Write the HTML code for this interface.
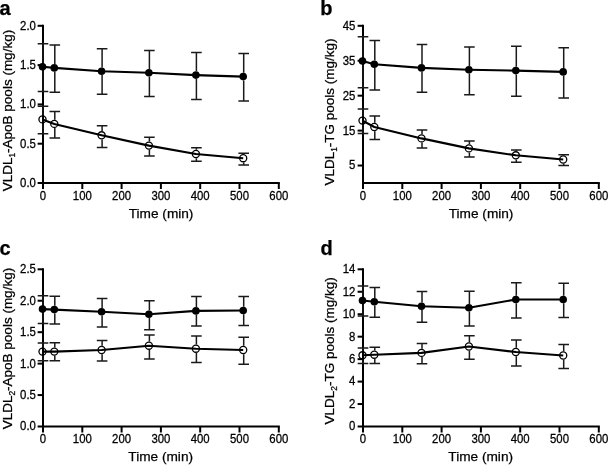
<!DOCTYPE html>
<html><head><meta charset="utf-8"><style>
html,body{margin:0;padding:0;background:#fff;}
body{width:609px;height:465px;overflow:hidden;}
svg{display:block;font-family:"Liberation Sans", sans-serif;will-change:transform;}
text{stroke:#000;stroke-width:0.25px;}
</style></head><body>
<svg width="609" height="465" viewBox="0 0 609 465">
<rect width="609" height="465" fill="#fff"/>
<path d="M43 25.8V183M43 183H278.80" stroke="#000" stroke-width="2" fill="none" stroke-linecap="square"/>
<line x1="37.6" y1="183.00" x2="43" y2="183.00" stroke="#000" stroke-width="2"/>
<text transform="translate(35.9 186.90) scale(1 1.06)" text-anchor="end" font-size="11.4">0.0</text>
<line x1="37.6" y1="143.70" x2="43" y2="143.70" stroke="#000" stroke-width="2"/>
<text transform="translate(35.9 147.60) scale(1 1.06)" text-anchor="end" font-size="11.4">0.5</text>
<line x1="37.6" y1="104.40" x2="43" y2="104.40" stroke="#000" stroke-width="2"/>
<text transform="translate(35.9 108.30) scale(1 1.06)" text-anchor="end" font-size="11.4">1.0</text>
<line x1="37.6" y1="65.10" x2="43" y2="65.10" stroke="#000" stroke-width="2"/>
<text transform="translate(35.9 69.00) scale(1 1.06)" text-anchor="end" font-size="11.4">1.5</text>
<line x1="37.6" y1="25.80" x2="43" y2="25.80" stroke="#000" stroke-width="2"/>
<text transform="translate(35.9 29.70) scale(1 1.06)" text-anchor="end" font-size="11.4">2.0</text>
<line x1="43.00" y1="183" x2="43.00" y2="189" stroke="#000" stroke-width="2"/>
<text transform="translate(43.00 200.10) scale(1 1.06)" text-anchor="middle" font-size="11.4">0</text>
<line x1="82.30" y1="183" x2="82.30" y2="189" stroke="#000" stroke-width="2"/>
<text transform="translate(82.30 200.10) scale(1 1.06)" text-anchor="middle" font-size="11.4">100</text>
<line x1="121.60" y1="183" x2="121.60" y2="189" stroke="#000" stroke-width="2"/>
<text transform="translate(121.60 200.10) scale(1 1.06)" text-anchor="middle" font-size="11.4">200</text>
<line x1="160.90" y1="183" x2="160.90" y2="189" stroke="#000" stroke-width="2"/>
<text transform="translate(160.90 200.10) scale(1 1.06)" text-anchor="middle" font-size="11.4">300</text>
<line x1="200.20" y1="183" x2="200.20" y2="189" stroke="#000" stroke-width="2"/>
<text transform="translate(200.20 200.10) scale(1 1.06)" text-anchor="middle" font-size="11.4">400</text>
<line x1="239.50" y1="183" x2="239.50" y2="189" stroke="#000" stroke-width="2"/>
<text transform="translate(239.50 200.10) scale(1 1.06)" text-anchor="middle" font-size="11.4">500</text>
<line x1="278.80" y1="183" x2="278.80" y2="189" stroke="#000" stroke-width="2"/>
<text transform="translate(278.80 200.10) scale(1 1.06)" text-anchor="middle" font-size="11.4">600</text>
<text x="161.10" y="218.00" text-anchor="middle" font-size="13.65">Time (min)</text>
<text transform="translate(11.8 110.6) rotate(-90)" text-anchor="middle" font-size="13.5">VLDL<tspan font-size="8.37" dy="3">1</tspan><tspan dy="-3">-ApoB pools (mg/kg)</tspan></text>
<text x="-0.5" y="14.7" font-size="20" font-weight="bold">a</text>
<path d="M43.00 63.00V43.8M37.70 43.8H48.30M43.00 70.60V91.4M37.70 91.4H48.30" stroke="#1a1a1a" stroke-width="1.5" fill="none"/>
<path d="M54.80 64.10V45M49.50 45H60.10M54.80 71.70V92.2M49.50 92.2H60.10" stroke="#1a1a1a" stroke-width="1.5" fill="none"/>
<path d="M102.10 67.40V48.7M96.80 48.7H107.40M102.10 75.00V94.2M96.80 94.2H107.40" stroke="#1a1a1a" stroke-width="1.5" fill="none"/>
<path d="M149.40 68.90V50.5M144.10 50.5H154.70M149.40 76.50V96.4M144.10 96.4H154.70" stroke="#1a1a1a" stroke-width="1.5" fill="none"/>
<path d="M196.40 71.30V52.4M191.10 52.4H201.70M196.40 78.90V99.4M191.10 99.4H201.70" stroke="#1a1a1a" stroke-width="1.5" fill="none"/>
<path d="M243.70 72.80V53.5M238.40 53.5H249.00M243.70 80.40V101.1M238.40 101.1H249.00" stroke="#1a1a1a" stroke-width="1.5" fill="none"/>
<polyline points="42.5,66.8 54.3,67.9 101.6,71.2 148.9,72.7 195.9,75.1 243.2,76.6" stroke="#000" stroke-width="2.1" fill="none" stroke-linejoin="round"/>
<circle cx="42.5" cy="66.8" r="3.8" fill="#000"/>
<circle cx="54.3" cy="67.9" r="3.8" fill="#000"/>
<circle cx="101.6" cy="71.2" r="3.8" fill="#000"/>
<circle cx="148.9" cy="72.7" r="3.8" fill="#000"/>
<circle cx="195.9" cy="75.1" r="3.8" fill="#000"/>
<circle cx="243.2" cy="76.6" r="3.8" fill="#000"/>
<path d="M43.00 115.20V106.2M37.70 106.2H48.30M43.00 123.60V133.8M37.70 133.8H48.30" stroke="#1a1a1a" stroke-width="1.5" fill="none"/>
<path d="M54.80 119.70V111.6M49.50 111.6H60.10M54.80 128.10V138M49.50 138H60.10" stroke="#1a1a1a" stroke-width="1.5" fill="none"/>
<path d="M102.10 131.10V125.7M96.80 125.7H107.40M102.10 139.50V147.4M96.80 147.4H107.40" stroke="#1a1a1a" stroke-width="1.5" fill="none"/>
<path d="M149.40 141.40V137.3M144.10 137.3H154.70M149.40 149.80V155.9M144.10 155.9H154.70" stroke="#1a1a1a" stroke-width="1.5" fill="none"/>
<path d="M196.40 149.80V147.8M191.10 147.8H201.70M196.40 158.20V161.2M191.10 161.2H201.70" stroke="#1a1a1a" stroke-width="1.5" fill="none"/>
<path d="M243.70 154.00V153.3M238.40 153.3H249.00M243.70 162.40V165.1M238.40 165.1H249.00" stroke="#1a1a1a" stroke-width="1.5" fill="none"/>
<polyline points="42.5,119.4 54.3,123.9 101.6,135.3 148.9,145.6 195.9,154 243.2,158.2" stroke="#000" stroke-width="2.1" fill="none" stroke-linejoin="round"/>
<circle cx="42.5" cy="119.4" r="3.55" fill="none" stroke="#000" stroke-width="1.3"/>
<circle cx="54.3" cy="123.9" r="3.55" fill="none" stroke="#000" stroke-width="1.3"/>
<circle cx="101.6" cy="135.3" r="3.55" fill="none" stroke="#000" stroke-width="1.3"/>
<circle cx="148.9" cy="145.6" r="3.55" fill="none" stroke="#000" stroke-width="1.3"/>
<circle cx="195.9" cy="154" r="3.55" fill="none" stroke="#000" stroke-width="1.3"/>
<circle cx="243.2" cy="158.2" r="3.55" fill="none" stroke="#000" stroke-width="1.3"/>
<path d="M363 25.8V183M363 183H598.80" stroke="#000" stroke-width="2" fill="none" stroke-linecap="square"/>
<line x1="357.6" y1="165.53" x2="363" y2="165.53" stroke="#000" stroke-width="2"/>
<text transform="translate(355.4 169.43) scale(1 1.06)" text-anchor="end" font-size="11.4">5</text>
<line x1="357.6" y1="130.60" x2="363" y2="130.60" stroke="#000" stroke-width="2"/>
<text transform="translate(355.4 134.50) scale(1 1.06)" text-anchor="end" font-size="11.4">15</text>
<line x1="357.6" y1="95.67" x2="363" y2="95.67" stroke="#000" stroke-width="2"/>
<text transform="translate(355.4 99.57) scale(1 1.06)" text-anchor="end" font-size="11.4">25</text>
<line x1="357.6" y1="60.73" x2="363" y2="60.73" stroke="#000" stroke-width="2"/>
<text transform="translate(355.4 64.63) scale(1 1.06)" text-anchor="end" font-size="11.4">35</text>
<line x1="357.6" y1="25.80" x2="363" y2="25.80" stroke="#000" stroke-width="2"/>
<text transform="translate(355.4 29.70) scale(1 1.06)" text-anchor="end" font-size="11.4">45</text>
<line x1="363.00" y1="183" x2="363.00" y2="189" stroke="#000" stroke-width="2"/>
<text transform="translate(363.00 200.10) scale(1 1.06)" text-anchor="middle" font-size="11.4">0</text>
<line x1="402.30" y1="183" x2="402.30" y2="189" stroke="#000" stroke-width="2"/>
<text transform="translate(402.30 200.10) scale(1 1.06)" text-anchor="middle" font-size="11.4">100</text>
<line x1="441.60" y1="183" x2="441.60" y2="189" stroke="#000" stroke-width="2"/>
<text transform="translate(441.60 200.10) scale(1 1.06)" text-anchor="middle" font-size="11.4">200</text>
<line x1="480.90" y1="183" x2="480.90" y2="189" stroke="#000" stroke-width="2"/>
<text transform="translate(480.90 200.10) scale(1 1.06)" text-anchor="middle" font-size="11.4">300</text>
<line x1="520.20" y1="183" x2="520.20" y2="189" stroke="#000" stroke-width="2"/>
<text transform="translate(520.20 200.10) scale(1 1.06)" text-anchor="middle" font-size="11.4">400</text>
<line x1="559.50" y1="183" x2="559.50" y2="189" stroke="#000" stroke-width="2"/>
<text transform="translate(559.50 200.10) scale(1 1.06)" text-anchor="middle" font-size="11.4">500</text>
<line x1="598.80" y1="183" x2="598.80" y2="189" stroke="#000" stroke-width="2"/>
<text transform="translate(598.80 200.10) scale(1 1.06)" text-anchor="middle" font-size="11.4">600</text>
<text x="481.10" y="218.00" text-anchor="middle" font-size="13.65">Time (min)</text>
<text transform="translate(333.8 112.0) rotate(-90)" text-anchor="middle" font-size="13.5">VLDL<tspan font-size="8.37" dy="3">1</tspan><tspan dy="-3">-TG pools (mg/kg)</tspan></text>
<text x="320.2" y="14.9" font-size="20" font-weight="bold">b</text>
<path d="M363.00 57.20V36.7M357.70 36.7H368.30M363.00 64.80V87.7M357.70 87.7H368.30" stroke="#1a1a1a" stroke-width="1.5" fill="none"/>
<path d="M374.80 60.50V40.4M369.50 40.4H380.10M374.80 68.10V90.1M369.50 90.1H380.10" stroke="#1a1a1a" stroke-width="1.5" fill="none"/>
<path d="M422.00 64.10V44.6M416.70 44.6H427.30M422.00 71.70V92.2M416.70 92.2H427.30" stroke="#1a1a1a" stroke-width="1.5" fill="none"/>
<path d="M469.40 65.90V47.1M464.10 47.1H474.70M469.40 73.50V94.7M464.10 94.7H474.70" stroke="#1a1a1a" stroke-width="1.5" fill="none"/>
<path d="M516.30 66.80V46.3M511.00 46.3H521.60M516.30 74.40V96.2M511.00 96.2H521.60" stroke="#1a1a1a" stroke-width="1.5" fill="none"/>
<path d="M563.70 68.10V47.7M558.40 47.7H569.00M563.70 75.70V97.9M558.40 97.9H569.00" stroke="#1a1a1a" stroke-width="1.5" fill="none"/>
<polyline points="362.5,61 374.3,64.3 421.5,67.9 468.9,69.7 515.8,70.6 563.2,71.9" stroke="#000" stroke-width="2.1" fill="none" stroke-linejoin="round"/>
<circle cx="362.5" cy="61" r="3.8" fill="#000"/>
<circle cx="374.3" cy="64.3" r="3.8" fill="#000"/>
<circle cx="421.5" cy="67.9" r="3.8" fill="#000"/>
<circle cx="468.9" cy="69.7" r="3.8" fill="#000"/>
<circle cx="515.8" cy="70.6" r="3.8" fill="#000"/>
<circle cx="563.2" cy="71.9" r="3.8" fill="#000"/>
<path d="M363.00 116.40V109.1M357.70 109.1H368.30M363.00 124.80V133.5M357.70 133.5H368.30" stroke="#1a1a1a" stroke-width="1.5" fill="none"/>
<path d="M374.80 122.80V116.1M369.50 116.1H380.10M374.80 131.20V139.6M369.50 139.6H380.10" stroke="#1a1a1a" stroke-width="1.5" fill="none"/>
<path d="M422.00 134.20V129.9M416.70 129.9H427.30M422.00 142.60V147.9M416.70 147.9H427.30" stroke="#1a1a1a" stroke-width="1.5" fill="none"/>
<path d="M469.40 144.20V141M464.10 141H474.70M469.40 152.60V157M464.10 157H474.70" stroke="#1a1a1a" stroke-width="1.5" fill="none"/>
<path d="M516.30 151.10V149.9M511.00 149.9H521.60M516.30 159.50V162.3M511.00 162.3H521.60" stroke="#1a1a1a" stroke-width="1.5" fill="none"/>
<path d="M563.70 155.30V154.8M558.40 154.8H569.00M563.70 163.70V165.5M558.40 165.5H569.00" stroke="#1a1a1a" stroke-width="1.5" fill="none"/>
<polyline points="362.5,120.6 374.3,127 421.5,138.4 468.9,148.4 515.8,155.3 563.2,159.5" stroke="#000" stroke-width="2.1" fill="none" stroke-linejoin="round"/>
<circle cx="362.5" cy="120.6" r="3.55" fill="none" stroke="#000" stroke-width="1.3"/>
<circle cx="374.3" cy="127" r="3.55" fill="none" stroke="#000" stroke-width="1.3"/>
<circle cx="421.5" cy="138.4" r="3.55" fill="none" stroke="#000" stroke-width="1.3"/>
<circle cx="468.9" cy="148.4" r="3.55" fill="none" stroke="#000" stroke-width="1.3"/>
<circle cx="515.8" cy="155.3" r="3.55" fill="none" stroke="#000" stroke-width="1.3"/>
<circle cx="563.2" cy="159.5" r="3.55" fill="none" stroke="#000" stroke-width="1.3"/>
<path d="M43 269.3V426.5M43 426.5H278.80" stroke="#000" stroke-width="2" fill="none" stroke-linecap="square"/>
<line x1="37.6" y1="426.50" x2="43" y2="426.50" stroke="#000" stroke-width="2"/>
<text transform="translate(35.9 430.40) scale(1 1.06)" text-anchor="end" font-size="11.4">0.0</text>
<line x1="37.6" y1="395.06" x2="43" y2="395.06" stroke="#000" stroke-width="2"/>
<text transform="translate(35.9 398.96) scale(1 1.06)" text-anchor="end" font-size="11.4">0.5</text>
<line x1="37.6" y1="363.62" x2="43" y2="363.62" stroke="#000" stroke-width="2"/>
<text transform="translate(35.9 367.52) scale(1 1.06)" text-anchor="end" font-size="11.4">1.0</text>
<line x1="37.6" y1="332.18" x2="43" y2="332.18" stroke="#000" stroke-width="2"/>
<text transform="translate(35.9 336.08) scale(1 1.06)" text-anchor="end" font-size="11.4">1.5</text>
<line x1="37.6" y1="300.74" x2="43" y2="300.74" stroke="#000" stroke-width="2"/>
<text transform="translate(35.9 304.64) scale(1 1.06)" text-anchor="end" font-size="11.4">2.0</text>
<line x1="37.6" y1="269.30" x2="43" y2="269.30" stroke="#000" stroke-width="2"/>
<text transform="translate(35.9 273.20) scale(1 1.06)" text-anchor="end" font-size="11.4">2.5</text>
<line x1="43.00" y1="426.5" x2="43.00" y2="432.5" stroke="#000" stroke-width="2"/>
<text transform="translate(43.00 443.00) scale(1 1.06)" text-anchor="middle" font-size="11.4">0</text>
<line x1="82.30" y1="426.5" x2="82.30" y2="432.5" stroke="#000" stroke-width="2"/>
<text transform="translate(82.30 443.00) scale(1 1.06)" text-anchor="middle" font-size="11.4">100</text>
<line x1="121.60" y1="426.5" x2="121.60" y2="432.5" stroke="#000" stroke-width="2"/>
<text transform="translate(121.60 443.00) scale(1 1.06)" text-anchor="middle" font-size="11.4">200</text>
<line x1="160.90" y1="426.5" x2="160.90" y2="432.5" stroke="#000" stroke-width="2"/>
<text transform="translate(160.90 443.00) scale(1 1.06)" text-anchor="middle" font-size="11.4">300</text>
<line x1="200.20" y1="426.5" x2="200.20" y2="432.5" stroke="#000" stroke-width="2"/>
<text transform="translate(200.20 443.00) scale(1 1.06)" text-anchor="middle" font-size="11.4">400</text>
<line x1="239.50" y1="426.5" x2="239.50" y2="432.5" stroke="#000" stroke-width="2"/>
<text transform="translate(239.50 443.00) scale(1 1.06)" text-anchor="middle" font-size="11.4">500</text>
<line x1="278.80" y1="426.5" x2="278.80" y2="432.5" stroke="#000" stroke-width="2"/>
<text transform="translate(278.80 443.00) scale(1 1.06)" text-anchor="middle" font-size="11.4">600</text>
<text x="160.70" y="461.00" text-anchor="middle" font-size="13.65">Time (min)</text>
<text transform="translate(11.8 348.6) rotate(-90)" text-anchor="middle" font-size="13.5">VLDL<tspan font-size="8.37" dy="3">2</tspan><tspan dy="-3">-ApoB pools (mg/kg)</tspan></text>
<text x="-0.5" y="254.9" font-size="20" font-weight="bold">c</text>
<path d="M43.00 305.30V295.7M37.70 295.7H48.30M43.00 312.90V323.6M37.70 323.6H48.30" stroke="#1a1a1a" stroke-width="1.5" fill="none"/>
<path d="M54.80 305.80V296.2M49.50 296.2H60.10M54.80 313.40V324.1M49.50 324.1H60.10" stroke="#1a1a1a" stroke-width="1.5" fill="none"/>
<path d="M102.10 308.00V298.5M96.80 298.5H107.40M102.10 315.60V326.9M96.80 326.9H107.40" stroke="#1a1a1a" stroke-width="1.5" fill="none"/>
<path d="M149.40 310.40V300.7M144.10 300.7H154.70M149.40 318.00V329.7M144.10 329.7H154.70" stroke="#1a1a1a" stroke-width="1.5" fill="none"/>
<path d="M196.40 307.10V296.4M191.10 296.4H201.70M196.40 314.70V325.9M191.10 325.9H201.70" stroke="#1a1a1a" stroke-width="1.5" fill="none"/>
<path d="M243.70 306.70V296.4M238.40 296.4H249.00M243.70 314.30V325.5M238.40 325.5H249.00" stroke="#1a1a1a" stroke-width="1.5" fill="none"/>
<polyline points="42.5,309.1 54.3,309.6 101.6,311.8 148.9,314.2 195.9,310.9 243.2,310.5" stroke="#000" stroke-width="2.1" fill="none" stroke-linejoin="round"/>
<circle cx="42.5" cy="309.1" r="3.8" fill="#000"/>
<circle cx="54.3" cy="309.6" r="3.8" fill="#000"/>
<circle cx="101.6" cy="311.8" r="3.8" fill="#000"/>
<circle cx="148.9" cy="314.2" r="3.8" fill="#000"/>
<circle cx="195.9" cy="310.9" r="3.8" fill="#000"/>
<circle cx="243.2" cy="310.5" r="3.8" fill="#000"/>
<path d="M43.00 347.40V342.9M37.70 342.9H48.30M43.00 355.80V360.8M37.70 360.8H48.30" stroke="#1a1a1a" stroke-width="1.5" fill="none"/>
<path d="M54.80 347.40V342.7M49.50 342.7H60.10M54.80 355.80V360.7M49.50 360.7H60.10" stroke="#1a1a1a" stroke-width="1.5" fill="none"/>
<path d="M102.10 345.80V340.4M96.80 340.4H107.40M102.10 354.20V361.1M96.80 361.1H107.40" stroke="#1a1a1a" stroke-width="1.5" fill="none"/>
<path d="M149.40 341.50V334.9M144.10 334.9H154.70M149.40 349.90V359M144.10 359H154.70" stroke="#1a1a1a" stroke-width="1.5" fill="none"/>
<path d="M196.40 344.50V335.9M191.10 335.9H201.70M196.40 352.90V362.6M191.10 362.6H201.70" stroke="#1a1a1a" stroke-width="1.5" fill="none"/>
<path d="M243.70 345.80V337.2M238.40 337.2H249.00M243.70 354.20V364.3M238.40 364.3H249.00" stroke="#1a1a1a" stroke-width="1.5" fill="none"/>
<polyline points="42.5,351.6 54.3,351.6 101.6,350 148.9,345.7 195.9,348.7 243.2,350" stroke="#000" stroke-width="2.1" fill="none" stroke-linejoin="round"/>
<circle cx="42.5" cy="351.6" r="3.55" fill="none" stroke="#000" stroke-width="1.3"/>
<circle cx="54.3" cy="351.6" r="3.55" fill="none" stroke="#000" stroke-width="1.3"/>
<circle cx="101.6" cy="350" r="3.55" fill="none" stroke="#000" stroke-width="1.3"/>
<circle cx="148.9" cy="345.7" r="3.55" fill="none" stroke="#000" stroke-width="1.3"/>
<circle cx="195.9" cy="348.7" r="3.55" fill="none" stroke="#000" stroke-width="1.3"/>
<circle cx="243.2" cy="350" r="3.55" fill="none" stroke="#000" stroke-width="1.3"/>
<path d="M363 269.3V426.5M363 426.5H598.80" stroke="#000" stroke-width="2" fill="none" stroke-linecap="square"/>
<line x1="357.6" y1="426.50" x2="363" y2="426.50" stroke="#000" stroke-width="2"/>
<text transform="translate(355.4 430.40) scale(1 1.06)" text-anchor="end" font-size="11.4">0</text>
<line x1="357.6" y1="404.04" x2="363" y2="404.04" stroke="#000" stroke-width="2"/>
<text transform="translate(355.4 407.94) scale(1 1.06)" text-anchor="end" font-size="11.4">2</text>
<line x1="357.6" y1="381.59" x2="363" y2="381.59" stroke="#000" stroke-width="2"/>
<text transform="translate(355.4 385.49) scale(1 1.06)" text-anchor="end" font-size="11.4">4</text>
<line x1="357.6" y1="359.13" x2="363" y2="359.13" stroke="#000" stroke-width="2"/>
<text transform="translate(355.4 363.03) scale(1 1.06)" text-anchor="end" font-size="11.4">6</text>
<line x1="357.6" y1="336.67" x2="363" y2="336.67" stroke="#000" stroke-width="2"/>
<text transform="translate(355.4 340.57) scale(1 1.06)" text-anchor="end" font-size="11.4">8</text>
<line x1="357.6" y1="314.21" x2="363" y2="314.21" stroke="#000" stroke-width="2"/>
<text transform="translate(355.4 318.11) scale(1 1.06)" text-anchor="end" font-size="11.4">10</text>
<line x1="357.6" y1="291.76" x2="363" y2="291.76" stroke="#000" stroke-width="2"/>
<text transform="translate(355.4 295.66) scale(1 1.06)" text-anchor="end" font-size="11.4">12</text>
<line x1="357.6" y1="269.30" x2="363" y2="269.30" stroke="#000" stroke-width="2"/>
<text transform="translate(355.4 273.20) scale(1 1.06)" text-anchor="end" font-size="11.4">14</text>
<line x1="363.00" y1="426.5" x2="363.00" y2="432.5" stroke="#000" stroke-width="2"/>
<text transform="translate(363.00 443.00) scale(1 1.06)" text-anchor="middle" font-size="11.4">0</text>
<line x1="402.30" y1="426.5" x2="402.30" y2="432.5" stroke="#000" stroke-width="2"/>
<text transform="translate(402.30 443.00) scale(1 1.06)" text-anchor="middle" font-size="11.4">100</text>
<line x1="441.60" y1="426.5" x2="441.60" y2="432.5" stroke="#000" stroke-width="2"/>
<text transform="translate(441.60 443.00) scale(1 1.06)" text-anchor="middle" font-size="11.4">200</text>
<line x1="480.90" y1="426.5" x2="480.90" y2="432.5" stroke="#000" stroke-width="2"/>
<text transform="translate(480.90 443.00) scale(1 1.06)" text-anchor="middle" font-size="11.4">300</text>
<line x1="520.20" y1="426.5" x2="520.20" y2="432.5" stroke="#000" stroke-width="2"/>
<text transform="translate(520.20 443.00) scale(1 1.06)" text-anchor="middle" font-size="11.4">400</text>
<line x1="559.50" y1="426.5" x2="559.50" y2="432.5" stroke="#000" stroke-width="2"/>
<text transform="translate(559.50 443.00) scale(1 1.06)" text-anchor="middle" font-size="11.4">500</text>
<line x1="598.80" y1="426.5" x2="598.80" y2="432.5" stroke="#000" stroke-width="2"/>
<text transform="translate(598.80 443.00) scale(1 1.06)" text-anchor="middle" font-size="11.4">600</text>
<text x="480.70" y="461.00" text-anchor="middle" font-size="13.65">Time (min)</text>
<text transform="translate(333.8 350.9) rotate(-90)" text-anchor="middle" font-size="13.5">VLDL<tspan font-size="8.37" dy="3">2</tspan><tspan dy="-3">-TG pools (mg/kg)</tspan></text>
<text x="320.4" y="255.1" font-size="20" font-weight="bold">d</text>
<path d="M363.00 296.70V286M357.70 286H368.30M363.00 304.30V316M357.70 316H368.30" stroke="#1a1a1a" stroke-width="1.5" fill="none"/>
<path d="M374.80 297.90V287.4M369.50 287.4H380.10M374.80 305.50V317.2M369.50 317.2H380.10" stroke="#1a1a1a" stroke-width="1.5" fill="none"/>
<path d="M422.00 302.50V291.5M416.70 291.5H427.30M422.00 310.10V322.2M416.70 322.2H427.30" stroke="#1a1a1a" stroke-width="1.5" fill="none"/>
<path d="M469.40 304.00V291.3M464.10 291.3H474.70M469.40 311.60V325.9M464.10 325.9H474.70" stroke="#1a1a1a" stroke-width="1.5" fill="none"/>
<path d="M516.30 295.70V282.8M511.00 282.8H521.60M516.30 303.30V318M511.00 318H521.60" stroke="#1a1a1a" stroke-width="1.5" fill="none"/>
<path d="M563.70 295.70V283.2M558.40 283.2H569.00M563.70 303.30V317.4M558.40 317.4H569.00" stroke="#1a1a1a" stroke-width="1.5" fill="none"/>
<polyline points="362.5,300.5 374.3,301.7 421.5,306.3 468.9,307.8 515.8,299.5 563.2,299.5" stroke="#000" stroke-width="2.1" fill="none" stroke-linejoin="round"/>
<circle cx="362.5" cy="300.5" r="3.8" fill="#000"/>
<circle cx="374.3" cy="301.7" r="3.8" fill="#000"/>
<circle cx="421.5" cy="306.3" r="3.8" fill="#000"/>
<circle cx="468.9" cy="307.8" r="3.8" fill="#000"/>
<circle cx="515.8" cy="299.5" r="3.8" fill="#000"/>
<circle cx="563.2" cy="299.5" r="3.8" fill="#000"/>
<path d="M363.00 351.10V348.1M357.70 348.1H368.30M363.00 359.50V363.4M357.70 363.4H368.30" stroke="#1a1a1a" stroke-width="1.5" fill="none"/>
<path d="M374.80 350.50V347.2M369.50 347.2H380.10M374.80 358.90V363.4M369.50 363.4H380.10" stroke="#1a1a1a" stroke-width="1.5" fill="none"/>
<path d="M422.00 348.70V343.5M416.70 343.5H427.30M422.00 357.10V363.8M416.70 363.8H427.30" stroke="#1a1a1a" stroke-width="1.5" fill="none"/>
<path d="M469.40 342.30V335.8M464.10 335.8H474.70M469.40 350.70V359.2M464.10 359.2H474.70" stroke="#1a1a1a" stroke-width="1.5" fill="none"/>
<path d="M516.30 347.80V340M511.00 340H521.60M516.30 356.20V365.9M511.00 365.9H521.60" stroke="#1a1a1a" stroke-width="1.5" fill="none"/>
<path d="M563.70 351.30V344.5M558.40 344.5H569.00M563.70 359.70V368.4M558.40 368.4H569.00" stroke="#1a1a1a" stroke-width="1.5" fill="none"/>
<polyline points="362.5,355.3 374.3,354.7 421.5,352.9 468.9,346.5 515.8,352 563.2,355.5" stroke="#000" stroke-width="2.1" fill="none" stroke-linejoin="round"/>
<circle cx="362.5" cy="355.3" r="3.55" fill="none" stroke="#000" stroke-width="1.3"/>
<circle cx="374.3" cy="354.7" r="3.55" fill="none" stroke="#000" stroke-width="1.3"/>
<circle cx="421.5" cy="352.9" r="3.55" fill="none" stroke="#000" stroke-width="1.3"/>
<circle cx="468.9" cy="346.5" r="3.55" fill="none" stroke="#000" stroke-width="1.3"/>
<circle cx="515.8" cy="352" r="3.55" fill="none" stroke="#000" stroke-width="1.3"/>
<circle cx="563.2" cy="355.5" r="3.55" fill="none" stroke="#000" stroke-width="1.3"/>
</svg>
</body></html>
